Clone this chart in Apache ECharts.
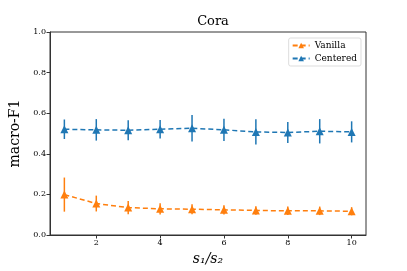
<!DOCTYPE html>
<html><head><meta charset="utf-8">
<script src="https://cdn.jsdelivr.net/npm/echarts@6/dist/echarts.min.js"></script>
<style>html,body{margin:0;padding:0;background:#fff}#c{width:407px;height:271px}</style>
</head><body><div id="c"></div>
<script>
const xValues = [1,2,3,4,5,6,7,8,9,10];
const vanillaMean = [0.199,0.155,0.135,0.129,0.127,0.124,0.121,0.119,0.119,0.117];
const vanillaErr  = [0.084,0.039,0.033,0.028,0.025,0.023,0.021,0.021,0.021,0.020];
const centeredMean = [0.521,0.518,0.516,0.521,0.526,0.518,0.508,0.505,0.511,0.508];
const centeredErr  = [0.048,0.053,0.049,0.046,0.065,0.055,0.062,0.052,0.060,0.052];
const xTicks = [2,4,6,8,10];
const yTicks = [0,0.2,0.4,0.6,0.8,1.0];

const ORANGE = '#ff7f0e', BLUE = '#1f77b4';
const SERIF = '"DejaVu Serif","Liberation Serif",serif';

function errData(m, e){ return xValues.map((x,i)=>[x, m[i]-e[i], m[i]+e[i]]); }
function errSeries(m, e, color){
  return {
    type:'custom', silent:true, z:3,
    data: errData(m,e),
    renderItem:(params, api)=>{
      const p1 = api.coord([api.value(0), api.value(1)]);
      const p2 = api.coord([api.value(0), api.value(2)]);
      return {type:'line', shape:{x1:p1[0],y1:p1[1],x2:p2[0],y2:p2[1]}, style:{stroke:color,lineWidth:1.5}};
    }
  };
}
function lineSeries(name, m, color){
  return {
    name, type:'line', z:4,
    data: xValues.map((x,i)=>[x,m[i]]),
    symbol:'triangle', symbolSize:8,
    lineStyle:{color, width:1.5, type:[5,3]},
    itemStyle:{color},
    showSymbol:true
  };
}
const chart = echarts.init(document.getElementById('c'));
chart.setOption({
  animation:false,
  backgroundColor:'#fff',
  title:{text:'Cora', left:208, textAlign:'center', top:10,
    textStyle:{fontFamily:SERIF, fontWeight:'normal', fontSize:13, color:'#000'}},
  grid:{left:50, right:41, top:32, bottom:34, show:true, borderColor:'#333', borderWidth:1},
  legend:{
    data:[{name:'Vanilla'},{name:'Centered'}],
    orient:'vertical', right:46, top:38, itemWidth:17, itemHeight:7, itemGap:4,
    padding:[3,4,3,3], borderColor:'#ddd', borderWidth:1, borderRadius:2, backgroundColor:'#fff',
    textStyle:{fontFamily:SERIF, fontSize:9, color:'#000'}
  },
  xAxis:{type:'value', min:0.55, max:10.45,
    name:'s\u2081/s\u2082', nameLocation:'middle', nameGap:17,
    nameTextStyle:{fontFamily:SERIF, fontStyle:'italic', fontSize:14, color:'#000'},
    axisLine:{show:true, lineStyle:{color:'#333', width:1}},
    axisTick:{show:true, customValues:xTicks, length:3.5, inside:false, lineStyle:{color:'#333'}},
    axisLabel:{customValues:xTicks, fontFamily:SERIF, fontSize:8, color:'#000', margin:4},
    splitLine:{show:false}},
  yAxis:{type:'value', min:0, max:1, interval:0.2,
    name:'macro-F1', nameLocation:'middle', nameGap:26, nameRotate:90,
    nameTextStyle:{fontFamily:SERIF, fontSize:14, color:'#000'},
    axisLine:{show:true, lineStyle:{color:'#333', width:1}},
    axisTick:{show:true, length:3.5, lineStyle:{color:'#333'}},
    axisLabel:{fontFamily:SERIF, fontSize:8, color:'#000', margin:4, formatter:v=>v.toFixed(1)},
    splitLine:{show:false}},
  series:[
    errSeries(vanillaMean, vanillaErr, ORANGE),
    errSeries(centeredMean, centeredErr, BLUE),
    lineSeries('Vanilla', vanillaMean, ORANGE),
    lineSeries('Centered', centeredMean, BLUE)
  ]
});
</script></body></html>
